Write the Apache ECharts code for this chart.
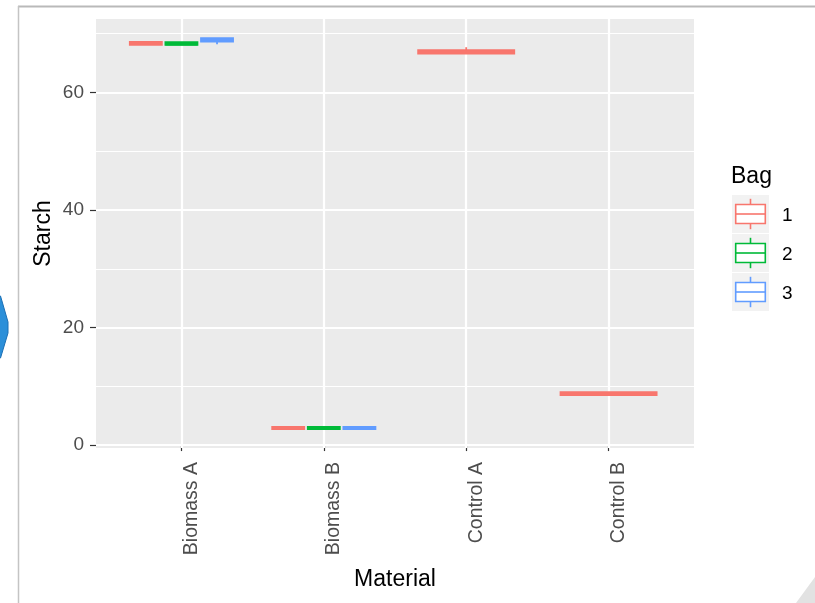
<!DOCTYPE html>
<html>
<head>
<meta charset="utf-8">
<script src="https://cdn.jsdelivr.net/npm/echarts@6/dist/echarts.min.js"></script>
<style>
html,body{margin:0;padding:0;background:#fff;}
#chart{width:815px;height:603px;}
</style>
</head>
<body>
<div id="chart"></div>
<script>
// ---- data ----
const materials = ['Biomass A', 'Biomass B', 'Control A', 'Control B'];
const bagNames = ['1', '2', '3'];
// per material: [min, Q1, median, Q3, max]; null = bag not measured
const bag1 = [[68.1, 68.1, 68.35, 68.6, 68.6], [2.7, 2.7, 2.9, 3.1, 3.1], [66.6, 66.6, 66.9, 67.2, 67.7], [8.5, 8.5, 8.75, 9.0, 9.0]];
const bag2 = [[68.1, 68.1, 68.3, 68.55, 68.55], [2.7, 2.7, 2.9, 3.1, 3.1], null, null];
const bag3 = [[68.2, 68.65, 68.9, 69.25, 69.25], [2.7, 2.7, 2.9, 3.1, 3.1], null, null];
const yTicks = [0, 20, 40, 60];
const yMinorTicks = [10, 30, 50, 70];
const xTicks = [1, 2, 3, 4];
const colors = ['#F8766D', '#00BA38', '#619CFF'];

const bags = [bag1, bag2, bag3];
const FONT = '"Liberation Sans", Arial, sans-serif';

function seriesData(k) {
  const out = [];
  materials.forEach((m, i) => {
    const v = bags[k][i];
    if (!v) return;
    let slot = 0, n = 0;
    bags.forEach((b, j) => { if (b[i]) { if (j < k) slot++; n++; } });
    out.push([i + 1, v[0], v[1], v[2], v[3], v[4], slot, n]);
  });
  return out;
}

function renderBox(params, api) {
  const x = api.value(0);
  const mn = api.value(1), q1 = api.value(2), med = api.value(3), q3 = api.value(4), mx = api.value(5);
  const slot = api.value(6), n = api.value(7);
  const groupW = 0.75;
  const sw = groupW / n;
  const cx = x - groupW / 2 + sw * (slot + 0.5);
  const bw = sw * 0.9;
  const color = colors[params.seriesIndex - 1];
  const tl = api.coord([cx - bw / 2, q3]);
  const br = api.coord([cx + bw / 2, q1]);
  const mL = api.coord([cx - bw / 2, med]);
  const mR = api.coord([cx + bw / 2, med]);
  const top = api.coord([cx, mx]);
  const bot = api.coord([cx, mn]);
  const lw = 1.8;
  return {
    type: 'group',
    children: [
      { type: 'line', shape: { x1: top[0], y1: top[1], x2: top[0], y2: tl[1] }, style: { stroke: color, lineWidth: lw } },
      { type: 'line', shape: { x1: bot[0], y1: br[1], x2: bot[0], y2: bot[1] }, style: { stroke: color, lineWidth: lw } },
      { type: 'rect', shape: { x: tl[0], y: tl[1], width: br[0] - tl[0], height: br[1] - tl[1] }, style: { fill: '#fff', stroke: color, lineWidth: lw } },
      { type: 'line', shape: { x1: mL[0], y1: mL[1], x2: mR[0], y2: mR[1] }, style: { stroke: color, lineWidth: 3.4 } }
    ]
  };
}

const chart = echarts.init(document.getElementById('chart'), null, { renderer: 'canvas' });

const gridLines = [];
yTicks.forEach(v => gridLines.push({ yAxis: v, lineStyle: { width: 2.2 } }));
yMinorTicks.forEach(v => gridLines.push({ yAxis: v, lineStyle: { width: 1.1 } }));
xTicks.forEach(v => gridLines.push({ xAxis: v, lineStyle: { width: 2.2 } }));

const series = [{
  type: 'line',
  data: [],
  silent: true,
  z: 1,
  markLine: {
    silent: true,
    z: 1,
    symbol: ['none', 'none'],
    label: { show: false },
    animation: false,
    lineStyle: { color: '#ffffff', type: 'solid' },
    emphasis: { disabled: true },
    data: gridLines
  }
}];
bagNames.forEach((b, k) => {
  series.push({
    type: 'custom',
    name: b,
    z: 3,
    renderItem: renderBox,
    encode: { x: 0, y: [1, 2, 3, 4, 5] },
    data: seriesData(k),
    animation: false
  });
});

// legend (drawn as graphics)
const legendEls = [
  { type: 'text', left: 731, top: 165, style: { text: 'Bag', font: '23px ' + FONT, fill: '#000' } }
];
bagNames.forEach((b, k) => {
  const y0 = 195 + 39 * k;
  const c = colors[k];
  legendEls.push(
    { type: 'rect', shape: { x: 732, y: y0, width: 37, height: 38 }, style: { fill: '#f2f2f2' } },
    { type: 'line', shape: { x1: 750.5, y1: y0 + 3.8, x2: 750.5, y2: y0 + 9.5 }, style: { stroke: c, lineWidth: 1.6 } },
    { type: 'line', shape: { x1: 750.5, y1: y0 + 28.5, x2: 750.5, y2: y0 + 34.2 }, style: { stroke: c, lineWidth: 1.6 } },
    { type: 'rect', shape: { x: 735.7, y: y0 + 9.5, width: 29.6, height: 19 }, style: { fill: '#fff', stroke: c, lineWidth: 1.6 } },
    { type: 'line', shape: { x1: 735.7, y1: y0 + 19, x2: 765.3, y2: y0 + 19 }, style: { stroke: c, lineWidth: 1.6 } },
    { type: 'text', x: 782, y: y0 + 21, style: { text: b, font: '19px ' + FONT, fill: '#000', verticalAlign: 'middle', align: 'left' } }
  );
});

// screenshot decorations
const decoEls = [
  { type: 'line', shape: { x1: 18, y1: 6.5, x2: 815, y2: 6.5 }, style: { stroke: '#b9b9b9', lineWidth: 2 } },
  { type: 'line', shape: { x1: 18.5, y1: 6, x2: 18.5, y2: 603 }, style: { stroke: '#c4c4c4', lineWidth: 1.5 } },
  { type: 'polygon', shape: { points: [[-2, 296], [0.5, 296], [8, 322], [8, 333], [0.5, 358], [-2, 358]] }, style: { fill: '#2b8fd9', stroke: '#1b6fb5', lineWidth: 1 } },
  { type: 'polygon', shape: { points: [[815, 577], [815, 603], [796, 603]] }, style: { fill: '#e2e2e2' } }
];

chart.setOption({
  animation: false,
  backgroundColor: '#ffffff',
  textStyle: { fontFamily: FONT },
  grid: {
    left: 96, right: 121, top: 19, bottom: 155,
    show: true, backgroundColor: '#ebebeb', borderWidth: 0
  },
  xAxis: {
    type: 'value',
    min: 0.4, max: 4.6,
    name: 'Material',
    nameLocation: 'middle',
    nameGap: 120,
    nameMoveOverlap: false,
    nameTextStyle: { fontSize: 23, color: '#000', fontFamily: FONT },
    axisLine: { show: false },
    axisTick: { show: true, length: 6, lineStyle: { color: '#333', width: 1.2 }, customValues: xTicks },
    axisLabel: {
      customValues: xTicks,
      rotate: 90,
      margin: 14,
      fontSize: 19.5,
      color: '#4d4d4d',
      fontFamily: FONT,
      verticalAlign: 'top',
      formatter: v => materials[Math.round(v) - 1] || ''
    },
    splitLine: { show: false }
  },
  yAxis: {
    type: 'value',
    min: -0.5, max: 72.5,
    name: 'Starch',
    nameLocation: 'middle',
    nameGap: 41,
    nameMoveOverlap: false,
    nameTextStyle: { fontSize: 23, color: '#000', fontFamily: FONT },
    axisLine: { show: false },
    axisTick: { show: true, length: 6, lineStyle: { color: '#333', width: 1.2 }, customValues: yTicks },
    axisLabel: {
      customValues: yTicks,
      margin: 12,
      fontSize: 19,
      color: '#4d4d4d',
      fontFamily: FONT
    },
    splitLine: { show: false }
  },
  graphic: { elements: legendEls.concat(decoEls) },
  series: series
});
</script>
</body>
</html>
